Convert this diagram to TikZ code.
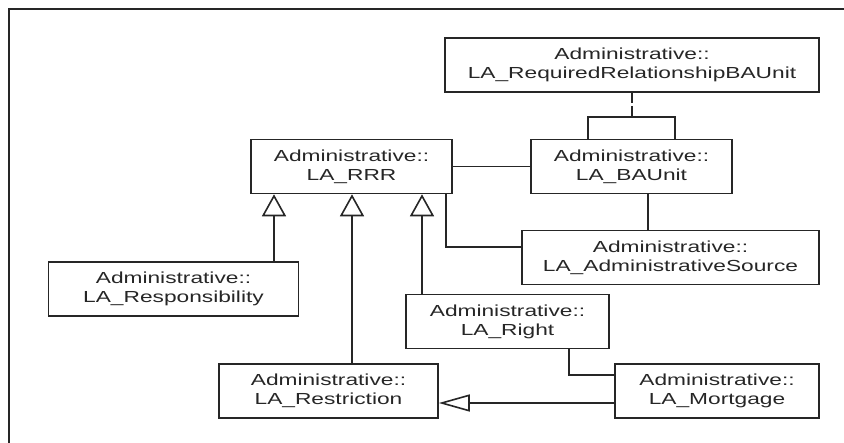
\documentclass[tikz,border=0pt]{standalone}
\usepackage{fontspec}
\setmainfont[FakeStretch=1.42]{Liberation Sans}
\usetikzlibrary{arrows.meta}

\tikzset{
	cls/.style={draw=black!85, line width=1.6pt, align=center, minimum height=54pt, inner sep=0pt, text=black!85, font=\fontsize{16}{19}\selectfont},
	ln/.style={draw=black!85, line width=1.6pt},
	gen/.style={ln, -{Triangle[open, length=22pt, width=24pt]}},
	genh/.style={ln, -{Triangle[open, length=31pt, width=17pt]}},
}

\begin{document}
\begin{tikzpicture}[x=1pt, y=-1pt]
	\useasboundingbox (0,0) rectangle (844,443);
	\draw[line width=2.5pt, black!85] (9,443) -- (9,9) -- (844,9);
	% classes
	\node[cls, minimum width=374pt] (req) at (632,65) {Administrative::\\LA\_RequiredRelationshipBAUnit};
	\node[cls, minimum width=201pt] (rrr) at (351.5,166.5) {Administrative::\\LA\_RRR};
	\node[cls, minimum width=201pt] (bau) at (631.5,166.5) {Administrative::\\LA\_BAUnit};
	\node[cls, minimum width=297pt] (src) at (670.5,257.5) {Administrative::\\LA\_AdministrativeSource};
	\node[cls, minimum width=250pt] (resp) at (173.5,289) {Administrative::\\LA\_Responsibility};
	\node[cls, minimum width=203pt] (right) at (507.5,321.5) {Administrative::\\LA\_Right};
	\node[cls, minimum width=219pt] (restr) at (328.5,391) {Administrative::\\LA\_Restriction};
	\node[cls, minimum width=204pt] (mort) at (717,391) {Administrative::\\LA\_Mortgage};
	% lanes
	\coordinate (la) at (274,0);
	\coordinate (lb) at (352,0);
	\coordinate (lc) at (422,0);
	\coordinate (ld) at (446,247);
	\coordinate (le) at (648,0);
	\coordinate (lf) at (632,117);
	\coordinate (lg) at (588,117);
	\coordinate (lh) at (675,117);
	\coordinate (li) at (569,375);
	\coordinate (lj) at (0,403);
	% generalisations
	\draw[gen] (resp.north -| la) -- (rrr.south -| la);
	\draw[gen] (restr.north -| lb) -- (rrr.south -| lb);
	\draw[gen] (right.north -| lc) -- (rrr.south -| lc);
	\draw[genh] (mort.west |- lj) -- (restr.east |- lj);
	% associations
	\draw[ln] (rrr) -- (bau);
	\draw[ln] (rrr.south -| ld) -- (ld) -- (ld -| src.west);
	\draw[ln] (bau.south -| le) -- (src.north -| le);
	\draw[ln] (right.south -| li) -- (li) -- (li -| mort.west);
	\draw[ln, dash pattern=on 10pt off 3pt] (req.south -| lf) -- (lf);
	\draw[ln] (bau.north -| lg) -- (lg) -- (lh) -- (bau.north -| lh);
\end{tikzpicture}
\end{document}
